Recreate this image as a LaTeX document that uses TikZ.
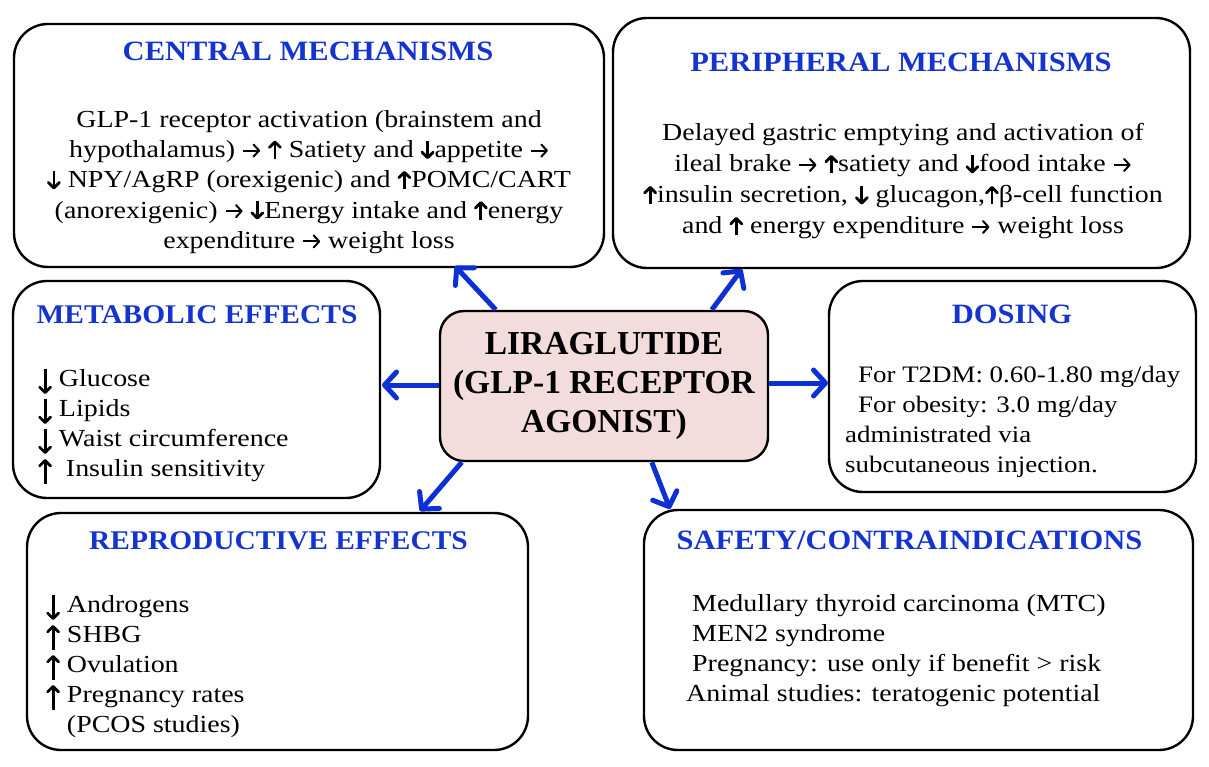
\documentclass[tikz,border=0pt]{standalone}
\usepackage{fontspec}
\setmainfont{Liberation Serif}
\newfontfamily\bodyfont[FakeStretch=1.14]{Liberation Serif}
\newfontfamily\ttlfont[FakeStretch=1.09]{Liberation Serif}
\usetikzlibrary{arrows.meta,calc}
\definecolor{ttl}{RGB}{20,52,205}
\definecolor{arrc}{RGB}{12,48,214}
\definecolor{pinkf}{RGB}{242,221,220}
\tikzset{txtarrow/.style={black,line width=2.8pt,-{Straight Barb[length=5.5pt,width=11pt,round]}}}
\newcommand{\ua}{\tikz[baseline=0pt,x=1pt,y=1pt]{\draw[txtarrow] (0,-1.5) -- (0,17);}}
\newcommand{\da}{\tikz[baseline=0pt,x=1pt,y=1pt]{\draw[txtarrow] (0,17) -- (0,-1.5);}}
\newcommand{\ra}{\tikz[baseline=0pt,x=1pt,y=1pt]{\draw[black,line width=2pt,-{Straight Barb[length=5.5pt,width=12pt,round]}] (0,7) -- (17,7);}}
\newcommand{\lua}{\tikz[baseline=0pt,x=1pt,y=1pt]{\draw[txtarrow] (0,-8) -- (0,17);}}
\newcommand{\lda}{\tikz[baseline=0pt,x=1pt,y=1pt]{\draw[txtarrow] (0,17) -- (0,-8);}}
\begin{document}
\begin{tikzpicture}[x=1pt,y=-1pt,
  box/.style={draw=black,line width=2.4pt,rounded corners=34pt,inner sep=0pt},
  ttlstyle/.style={font=\ttlfont\fontsize{28}{30}\selectfont\bfseries,text=ttl,inner sep=0pt},
  bodyc/.style={font=\bodyfont\fontsize{24.5}{30.3}\selectfont,align=center,inner sep=0pt},
  bodyl/.style={font=\bodyfont\fontsize{24.5}{30}\selectfont,align=left,inner sep=0pt},
  arr/.style={draw=arrc,line width=5pt,-{Straight Barb[length=12pt,width=26pt,round]}}]
\useasboundingbox (0,0) rectangle (1209,767);
% boxes
\node[box,minimum width=590pt,minimum height=243pt] (central) at (309,145.5) {};
\node[box,minimum width=577pt,minimum height=250pt] (periph) at (901.5,143) {};
\node[box,minimum width=367pt,minimum height=217pt] (metab) at (196.5,389.5) {};
\node[box,minimum width=367pt,minimum height=211pt] (dosing) at (1012.5,386.5) {};
\node[box,minimum width=501pt,minimum height=237pt] (repro) at (277.5,631.5) {};
\node[box,minimum width=549pt,minimum height=240pt] (safety) at (918.5,630) {};
\node[draw=black,line width=2.4pt,fill=pinkf,rounded corners=24pt,minimum width=328pt,minimum height=150pt,
      font=\fontsize{33.5}{39}\selectfont\bfseries,align=center,inner sep=0pt] (lira) at (604,386)
      {LIRAGLUTIDE\\(GLP-1 RECEPTOR\\AGONIST)};
% titles
\node[ttlstyle] (tc) at (308,51) {CENTRAL MECHANISMS};
\node[ttlstyle] (tp) at (901,62) {PERIPHERAL MECHANISMS};
\node[ttlstyle,font=\ttlfont\fontsize{27}{30}\selectfont\bfseries] (tm) at (197,315) {METABOLIC EFFECTS};
\node[ttlstyle] (td) at (1012,314) {DOSING};
\node[ttlstyle,font=\ttlfont\fontsize{27}{30}\selectfont\bfseries] (tr) at (278.5,541) {REPRODUCTIVE EFFECTS};
\node[ttlstyle] (ts) at (909.5,540) {SAFETY/CONTRAINDICATIONS};
% bodies
\node[bodyc] (bc) at (309,182) {GLP-1 receptor activation (brainstem and\\
hypothalamus) \ra\ \ua\ Satiety and \da appetite \ra\\
\da\ NPY/AgRP (orexigenic) and \ua POMC/CART\\
(anorexigenic) \ra\ \da Energy intake and \ua energy\\
expenditure \ra\ weight loss};
\node[bodyc,font=\bodyfont\fontsize{24.5}{31}\selectfont] (bp) at (903,181.5) {Delayed gastric emptying and activation of\\
ileal brake \ra\ \ua satiety and \da food intake \ra\\
\ua insulin secretion, \da\ glucagon,\ua β-cell function\\
and \ua\ energy expenditure \ra\ weight loss};
\node[bodyl,anchor=west] (bm) at (38,426.5) {\lda\ Glucose\\
\lda\ Lipids\\
\lda\ Waist circumference\\
\lua\ \ Insulin sensitivity};
\node[bodyl,anchor=west,font=\bodyfont\fontsize{23.6}{30}\selectfont] (bd) at (845,421.5) {\hspace*{13pt}For T2DM: 0.60-1.80 mg/day\\
\hspace*{13pt}For obesity: 3.0 mg/day\\
administrated via\\
subcutaneous injection.};
\node[bodyl,anchor=west] (br) at (46,667.5) {\lda\ Androgens\\
\lua\ SHBG\\
\lua\ Ovulation\\
\lua\ Pregnancy rates\\
\phantom{\lua}\ (PCOS studies)};
\node[bodyl,anchor=west] (bs) at (686,651) {\hspace*{6pt}Medullary thyroid carcinoma (MTC)\\
\hspace*{6pt}MEN2 syndrome\\
\hspace*{6pt}Pregnancy: use only if benefit > risk\\
Animal studies: teratogenic potential};
% arrow tips
\coordinate (tipC) at (455,266);
\coordinate (tipP) at (742,269);
\coordinate (tipM) at (382,385);
\coordinate (tipD) at (828,383);
\coordinate (tipR) at (420,511);
\coordinate (tipS) at (670,509);
\draw[arr] ($(lira.north west)+(57,0)$) -- (tipC);
\draw[arr] ($(lira.north west)+(273,0)$) -- (tipP);
\draw[arr] ($(lira.west)+(0,-1)$) -- (tipM);
\draw[arr] ($(lira.east)+(0,-3)$) -- (tipD);
\draw[arr] ($(lira.south west)+(23,0)$) -- (tipR);
\draw[arr] ($(lira.south west)+(213,0)$) -- (tipS);
\end{tikzpicture}
\end{document}
